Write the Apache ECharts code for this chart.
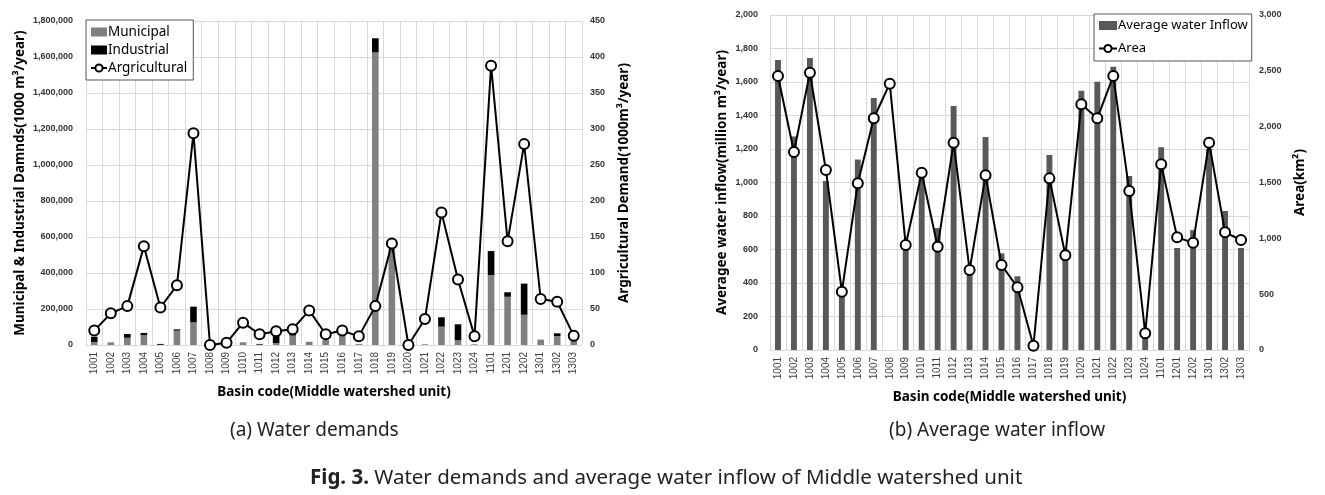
<!DOCTYPE html>
<html>
<head>
<meta charset="utf-8">
<script src="https://cdn.jsdelivr.net/npm/echarts@6/dist/echarts.min.js"></script>
<style>
html,body{margin:0;padding:0;background:#fff;}
#chart{width:1325px;height:495px;}
</style>
</head>
<body>
<div id="chart"></div>
<script>
// ---------- data ----------
const categories = ['1001','1002','1003','1004','1005','1006','1007','1008','1009','1010','1011','1012','1013','1014','1015','1016','1017','1018','1019','1020','1021','1022','1023','1024','1101','1201','1202','1301','1302','1303'];

// (a) Water demands
const municipal   = [17000,15000,40000,54000,1000,80000,126000,0,0,15000,2000,11000,52000,15000,28000,72000,5000,1626000,555000,0,4000,102000,26000,4000,389000,268000,168000,27000,50000,25000];
const industrial  = [29000,0,21000,13000,5000,7000,87000,0,0,0,4000,46000,16000,2000,0,6000,0,78000,0,0,0,52000,89000,0,133000,25000,173000,2000,15000,0];
const agricultural= [20,44,54,137,52,83,294,0,3,31,15,19,22,48,15,20,12,54,141,0,36,184,91,12,388,144,279,64,60,13];

// (b) Average water inflow
const inflow = [1731,1274,1743,1009,345,1138,1504,0,607,1045,728,1457,485,1272,577,440,15,1164,600,1548,1602,1691,1039,110,1210,609,716,1200,830,609];
const area   = [2454,1773,2483,1612,522,1493,2075,2385,940,1588,925,1856,716,1564,761,561,39,1537,848,2200,2075,2454,1424,149,1663,1009,961,1857,1054,985];

// ---------- chart ----------
const chart = echarts.init(document.getElementById('chart'));
const tickFont = {fontFamily:'Liberation Sans, Arial, sans-serif', fontWeight:'bold', fontSize:9, color:'#333'};
const titleFont = {fontFamily:'Noto Sans, sans-serif', fontWeight:'bold', fontSize:13.5, color:'#000'};
const fmt = v => Number(v).toLocaleString('en-US');
const grid = '#d9d9d9';

function xAxis(gi){
  return {
    type:'category', gridIndex:gi, data:categories, boundaryGap:true,
    axisLine:{show:true, lineStyle:{color:grid}},
    axisTick:{show:false},
    splitLine:{show:true, interval:0, lineStyle:{color:grid, width:1}},
    axisLabel:{interval:0, rotate:90, fontSize:10, color:'#404040', fontFamily:'Liberation Sans, Arial, sans-serif', margin:7},
    name:'Basin code(Middle watershed unit)', nameLocation:'middle', nameGap:40,
    nameTextStyle:titleFont
  };
}

const option = {
  animation:false,
  backgroundColor:'#fff',
  grid:[
    {left:86, top:21, width:496, height:324},
    {left:770, top:15, width:479, height:335}
  ],
  xAxis:[xAxis(0), xAxis(1)],
  yAxis:[
    {type:'value', gridIndex:0, min:0, max:1800000, interval:200000, position:'left',
     axisLine:{show:false}, axisTick:{show:false},
     splitLine:{show:true, lineStyle:{color:grid}},
     axisLabel:Object.assign({formatter:fmt, margin:13}, tickFont),
     name:'Municipal & Industrial Damnds(1000 m³/year)', nameLocation:'middle', nameRotate:90, nameGap:59,
     nameTextStyle:titleFont},
    {type:'value', gridIndex:0, min:0, max:450, interval:50, position:'right',
     axisLine:{show:false}, axisTick:{show:false}, splitLine:{show:false},
     axisLabel:Object.assign({formatter:fmt, margin:8}, tickFont),
     name:'Argricultural Demand(1000m³/year)', nameLocation:'middle', nameRotate:90, nameGap:35,
     nameTextStyle:titleFont},
    {type:'value', gridIndex:1, min:0, max:2000, interval:200, position:'left',
     axisLine:{show:false}, axisTick:{show:false},
     splitLine:{show:true, lineStyle:{color:grid}},
     axisLabel:Object.assign({formatter:fmt, margin:12}, tickFont),
     name:'Averagee water inflow(million m³/year)', nameLocation:'middle', nameRotate:90, nameGap:41,
     nameTextStyle:titleFont},
    {type:'value', gridIndex:1, min:0, max:3000, interval:500, position:'right',
     axisLine:{show:false}, axisTick:{show:false}, splitLine:{show:false},
     axisLabel:Object.assign({formatter:fmt, margin:10}, tickFont),
     name:'Area(km²)', nameLocation:'middle', nameRotate:90, nameGap:44,
     nameTextStyle:titleFont}
  ],
  legend:[
    {orient:'vertical', left:86, top:20, padding:[5,6,5,4], itemGap:4,
     borderColor:'#555', borderWidth:1, backgroundColor:'#fff',
     itemWidth:16, itemHeight:9,
     textStyle:{fontFamily:'Noto Sans, sans-serif', fontSize:13.5, color:'#000', padding:[0,0,0,-4]},
     data:[{name:'Municipal', icon:'rect'},{name:'Industrial', icon:'rect'},{name:'Argricultural'}]},
    {orient:'vertical', left:1094, top:14, width:150, padding:[5,4,6,4], itemGap:10,
     borderColor:'#555', borderWidth:1, backgroundColor:'#fff',
     itemWidth:18, itemHeight:9,
     textStyle:{fontFamily:'Noto Sans, sans-serif', fontSize:13, color:'#000', padding:[0,0,0,-4]},
     data:[{name:'Average water Inflow', icon:'rect'},{name:'Area'}]}
  ],
  series:[
    {name:'Municipal', type:'bar', xAxisIndex:0, yAxisIndex:0, stack:'d', data:municipal,
     barWidth:'40%', itemStyle:{color:'#808080'}},
    {name:'Industrial', type:'bar', xAxisIndex:0, yAxisIndex:0, stack:'d', data:industrial,
     barWidth:'40%', itemStyle:{color:'#000'}},
    {name:'Argricultural', type:'line', xAxisIndex:0, yAxisIndex:1, data:agricultural,
     symbol:'emptyCircle', symbolSize:10, z:5,
     lineStyle:{color:'#000', width:2}, itemStyle:{color:'#000', borderWidth:1.6}},
    {name:'Average water Inflow', type:'bar', xAxisIndex:1, yAxisIndex:2, data:inflow,
     barWidth:'37%', itemStyle:{color:'#595959'}},
    {name:'Area', type:'line', xAxisIndex:1, yAxisIndex:3, data:area,
     symbol:'emptyCircle', symbolSize:10, z:5,
     lineStyle:{color:'#000', width:2}, itemStyle:{color:'#000', borderWidth:1.6}}
  ],
  graphic:[
    {type:'text', left:230, top:421, style:{text:'(a) Water demands', font:'19px "Noto Sans", sans-serif', fill:'#222'}},
    {type:'text', left:889, top:421, style:{text:'(b) Average water inflow', font:'19px "Noto Sans", sans-serif', fill:'#222'}},
    {type:'text', left:310, top:468, style:{
      text:'{b|Fig. 3.} Water demands and average water inflow of Middle watershed unit',
      font:'20.5px "Noto Sans", sans-serif', fill:'#222',
      rich:{b:{font:'bold 20.5px "Noto Sans", sans-serif', fill:'#222'}}}}
  ]
};
chart.setOption(option);
</script>
</body>
</html>
